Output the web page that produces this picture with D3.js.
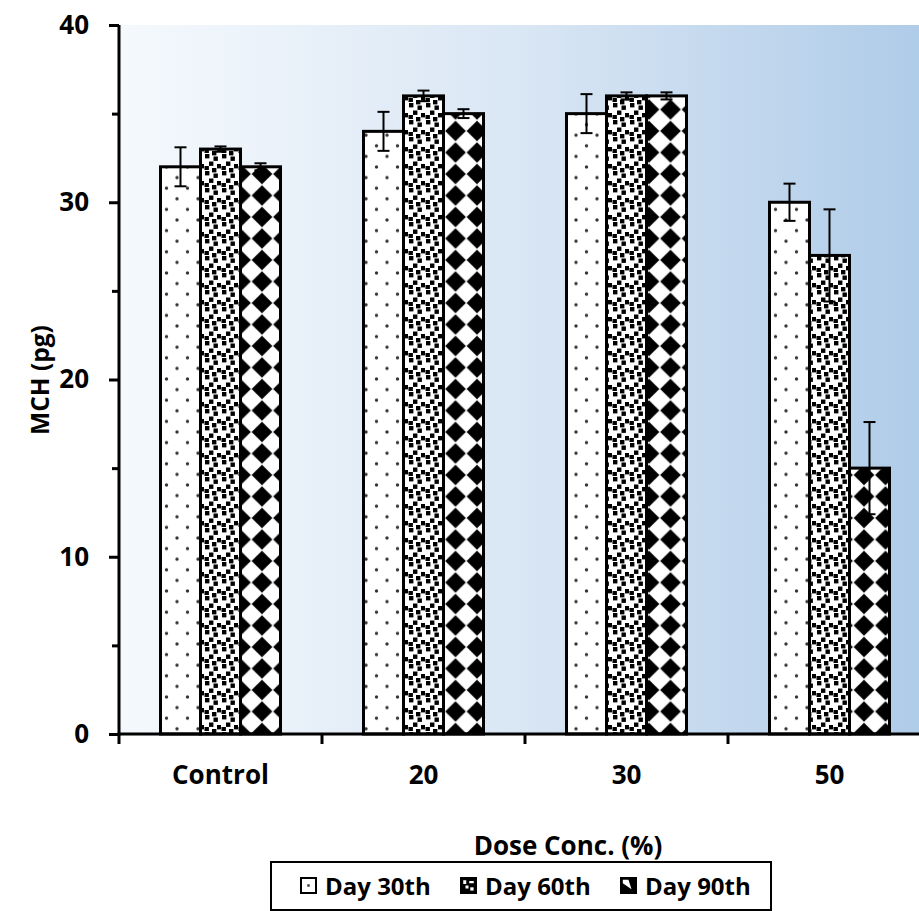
<!DOCTYPE html>
<html>
<head>
<meta charset="utf-8">
<script src="https://cdn.jsdelivr.net/npm/d3@7"></script>
<style>
  html, body { margin: 0; padding: 0; background: #ffffff; }
  svg { display: block; }
  text { font-family: "Open Sans", "Noto Sans", sans-serif; font-weight: 700; fill: #000; }
</style>
</head>
<body>
<svg id="chart" width="919" height="911"></svg>
<script>
// MCH (pg) by dose concentration, sampled on days 30, 60 and 90
const categories = ["Control", "20", "30", "50"];
const seriesNames = ["Day 30th", "Day 60th", "Day 90th"];
const day30 = [32, 34, 35, 30];
const day60 = [33, 36, 36, 27];
const day90 = [32, 35, 36, 15];
const err30 = [1.1, 1.1, 1.1, 1.05];
const err60 = [0.15, 0.3, 0.2, 2.6];
const err90 = [0.2, 0.25, 0.2, 2.6];
const yTickValues = [0, 10, 20, 30, 40];
const yMinorValues = [5, 15, 25, 35];

const seriesValues = [day30, day60, day90];
const seriesErrors = [err30, err60, err90];
const patternIds = ["pat-dots", "pat-confetti", "pat-diamond"];

const svg = d3.select("#chart");
const defs = svg.append("defs");

// plot frame
const plotLeft = 119, plotTop = 25, plotBottom = 734;
const bandStep = 203;
const plotRight = plotLeft + bandStep * categories.length;

// background gradient of the plot area
const grad = defs.append("linearGradient")
  .attr("id", "bg-grad")
  .attr("gradientUnits", "userSpaceOnUse")
  .attr("x1", plotLeft).attr("y1", 0)
  .attr("x2", plotRight).attr("y2", 0);
grad.append("stop").attr("offset", "0%").attr("stop-color", "#f5f9fd");
grad.append("stop").attr("offset", "50%").attr("stop-color", "#d9e6f4");
grad.append("stop").attr("offset", "100%").attr("stop-color", "#aecbe8");

// Day 30th: sparse dots on white
const pDots = defs.append("pattern")
  .attr("id", "pat-dots").attr("patternUnits", "userSpaceOnUse")
  .attr("width", 21).attr("height", 21.2)
  .attr("x", 9).attr("y", 8);
pDots.append("rect").attr("width", 21).attr("height", 21.2).attr("fill", "#fff");
[[0, 0], [21, 0], [0, 21.2], [21, 21.2], [10.5, 10.6]].forEach(([cx, cy]) =>
  pDots.append("circle").attr("cx", cx).attr("cy", cy).attr("r", 1.7).attr("fill", "#333"));

// Day 60th: dense confetti squares
const cS = 17, sq = 4.4;
const pConf = defs.append("pattern")
  .attr("id", "pat-confetti").attr("patternUnits", "userSpaceOnUse")
  .attr("width", cS).attr("height", cS);
pConf.append("rect").attr("width", cS).attr("height", cS).attr("fill", "#fff");
[[1, 1], [9.5, 3.5], [5, 8.5], [13, 11], [0.5, 13], [8, 15], [8, -2]].forEach(([x, y]) =>
  pConf.append("rect").attr("x", x).attr("y", y).attr("width", sq).attr("height", sq)
    .attr("fill", "#000"));

// Day 90th: black diamonds on white (rotated checker)
const dS = 21.5;
const pDia = defs.append("pattern")
  .attr("id", "pat-diamond").attr("patternUnits", "userSpaceOnUse")
  .attr("width", dS).attr("height", dS)
  .attr("x", 4).attr("y", 2);
pDia.append("rect").attr("width", dS).attr("height", dS).attr("fill", "#fff");
const h = dS * 0.48;
[[0, 0], [dS, 0], [0, dS], [dS, dS]].forEach(([cx, cy]) =>
  pDia.append("path")
    .attr("d", `M${cx},${cy - h} L${cx + h},${cy} L${cx},${cy + h} L${cx - h},${cy} Z`)
    .attr("fill", "#000"));

// legend swatches: small-scale versions of the bar fills
function swatchPattern(id) {
  return defs.append("pattern")
    .attr("id", id).attr("patternUnits", "objectBoundingBox")
    .attr("patternContentUnits", "objectBoundingBox")
    .attr("width", 1).attr("height", 1);
}
const pLeg30 = swatchPattern("pat-leg30");
pLeg30.append("rect").attr("width", 1).attr("height", 1).attr("fill", "#fff");
pLeg30.append("rect").attr("x", 0.42).attr("y", 0.42).attr("width", 0.16).attr("height", 0.16).attr("fill", "#333");

const pLeg60 = swatchPattern("pat-leg60");
pLeg60.append("rect").attr("width", 1).attr("height", 1).attr("fill", "#000");
[[0.15, 0.15, 0.2, 0.25], [0.55, 0.2, 0.3, 0.15], [0.3, 0.5, 0.2, 0.2], [0.62, 0.62, 0.22, 0.22]].forEach(([x, y, w, hh]) =>
  pLeg60.append("rect").attr("x", x).attr("y", y).attr("width", w).attr("height", hh).attr("fill", "#fff"));

const pLeg90 = swatchPattern("pat-leg90");
pLeg90.append("rect").attr("width", 1).attr("height", 1).attr("fill", "#000");
pLeg90.append("path").attr("d", "M0.12,0.12 L0.5,0.12 L0.7,0.75 L0.12,0.35 Z").attr("fill", "#fff");

// scales
const x0 = d3.scaleBand().domain(categories).range([plotLeft, plotRight]).padding(0);
const groupWidth = 120;
const x1 = d3.scaleBand().domain(seriesNames).range([-groupWidth / 2, groupWidth / 2]).padding(0);
const y = d3.scaleLinear().domain([0, 40]).range([plotBottom, plotTop]);

// plot area background
svg.append("rect")
  .attr("x", plotLeft).attr("y", plotTop)
  .attr("width", plotRight - plotLeft).attr("height", plotBottom - plotTop)
  .attr("fill", "url(#bg-grad)");

// bars
const barData = [];
seriesNames.forEach((s, si) => {
  categories.forEach((c, ci) => {
    barData.push({ cat: c, series: s, si, value: seriesValues[si][ci], err: seriesErrors[si][ci] });
  });
});

const cx = d => x0(d.cat) + x0.bandwidth() / 2 + x1(d.series);

svg.append("g").selectAll("rect")
  .data(barData)
  .join("rect")
  .attr("x", d => cx(d))
  .attr("y", d => y(d.value))
  .attr("width", x1.bandwidth())
  .attr("height", d => y(0) - y(d.value))
  .attr("fill", d => `url(#${patternIds[d.si]})`)
  .attr("stroke", "#000")
  .attr("stroke-width", 3);

// error bars
const capHalf = 6;
const eg = svg.append("g").attr("stroke", "#000").attr("stroke-width", 2);
barData.forEach(d => {
  const mx = cx(d) + x1.bandwidth() / 2;
  const yTop = y(d.value + d.err), yBot = y(d.value - d.err);
  eg.append("line").attr("x1", mx).attr("x2", mx).attr("y1", yTop).attr("y2", yBot);
  eg.append("line").attr("x1", mx - capHalf).attr("x2", mx + capHalf).attr("y1", yTop).attr("y2", yTop);
  eg.append("line").attr("x1", mx - capHalf).attr("x2", mx + capHalf).attr("y1", yBot).attr("y2", yBot);
});

// y axis
const yAxis = d3.axisLeft(y).tickValues(yTickValues).tickSize(10).tickPadding(20).tickFormat(d3.format("d"));
const gy = svg.append("g").attr("transform", `translate(${plotLeft},0)`).call(yAxis);
gy.select(".domain").attr("stroke", "#000").attr("stroke-width", 3)
  .attr("d", `M0,${plotTop}V${plotBottom + 1.5}`);
gy.selectAll(".tick line").attr("stroke", "#000").attr("stroke-width", 3);
gy.selectAll(".tick text").style("font-size", "26px").attr("fill", "#000")
  .attr("font-family", null).attr("font-size", null);

const yMinor = d3.axisLeft(y).tickValues(yMinorValues).tickSize(7).tickFormat("");
const gym = svg.append("g").attr("transform", `translate(${plotLeft},0)`).call(yMinor);
gym.select(".domain").remove();
gym.selectAll(".tick line").attr("stroke", "#000").attr("stroke-width", 3);

// x axis with boundary ticks between categories
const xAxisG = svg.append("g").attr("transform", `translate(0,${plotBottom})`);
xAxisG.append("line").attr("x1", plotLeft - 1.5).attr("x2", plotRight)
  .attr("y1", 0).attr("y2", 0).attr("stroke", "#000").attr("stroke-width", 3);
xAxisG.selectAll("line.bound")
  .data(categories)
  .join("line")
  .attr("class", "bound")
  .attr("x1", d => x0(d)).attr("x2", d => x0(d))
  .attr("y1", 0).attr("y2", 10)
  .attr("stroke", "#000").attr("stroke-width", 3);
xAxisG.selectAll("text.cat")
  .data(categories)
  .join("text")
  .attr("class", "cat")
  .attr("x", d => x0(d) + x0.bandwidth() / 2)
  .attr("y", 50)
  .attr("text-anchor", "middle")
  .style("font-size", "26px")
  .text(d => d);

// axis titles
svg.append("text")
  .attr("x", 568).attr("y", 855)
  .attr("text-anchor", "middle")
  .style("font-size", "26px")
  .text("Dose Conc. (%)");

svg.append("text")
  .attr("transform", "translate(49,380) rotate(-90)")
  .attr("text-anchor", "middle")
  .style("font-size", "24.5px")
  .text("MCH (pg)");

// legend
const legend = svg.append("g");
legend.append("rect")
  .attr("x", 271).attr("y", 862).attr("width", 500).attr("height", 48)
  .attr("fill", "#fff").attr("stroke", "#000").attr("stroke-width", 2);
const legendX = [301, 461, 621];
const legendFill = ["url(#pat-leg30)", "url(#pat-leg60)", "url(#pat-leg90)"];
seriesNames.forEach((s, i) => {
  legend.append("rect")
    .attr("x", legendX[i]).attr("y", 878).attr("width", 15).attr("height", 15)
    .attr("fill", legendFill[i])
    .attr("stroke", "#000").attr("stroke-width", 2);
  legend.append("text")
    .attr("x", legendX[i] + 24).attr("y", 895)
    .style("font-size", "24px")
    .text(s);
});
</script>
</body>
</html>
